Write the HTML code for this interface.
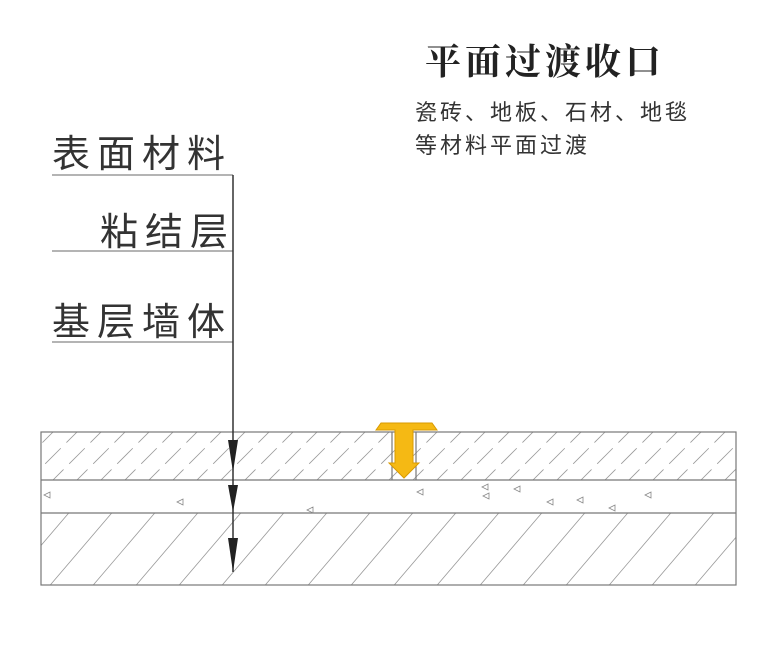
<!DOCTYPE html>
<html><head><meta charset="utf-8"><style>
body{margin:0;background:#fff;width:780px;height:646px;overflow:hidden}
svg{display:block}
.cj{font-family:"Liberation Sans","Noto Sans CJK SC",sans-serif;fill:#333}
</style></head><body>
<svg width="780" height="646" viewBox="0 0 780 646" xmlns="http://www.w3.org/2000/svg">
<defs>
<clipPath id="c1"><rect x="41" y="432" width="695" height="48"/></clipPath>
<clipPath id="c3"><rect x="41" y="513" width="695" height="72"/></clipPath>
</defs>
<text x="425" y="74" font-family="'Noto Serif CJK SC',serif" font-weight="bold" font-size="36" letter-spacing="4" fill="#222">平面过渡收口</text>
<text x="415" y="120" class="cj" font-size="22" letter-spacing="3">瓷砖、地板、石材、地毯</text>
<text x="415" y="153" class="cj" font-size="22" letter-spacing="3">等材料平面过渡</text>
<text x="52" y="167" class="cj" font-size="38" letter-spacing="7" fill="#444">表面材料</text>
<text x="100" y="245" class="cj" font-size="38" letter-spacing="7" fill="#444">粘结层</text>
<text x="52" y="335" class="cj" font-size="38" letter-spacing="7" fill="#444">基层墙体</text>
<g stroke="#888" stroke-width="1.2" fill="none">
<line x1="52" y1="175" x2="233" y2="175"/>
<line x1="52" y1="251" x2="233" y2="251"/>
<line x1="52" y1="342" x2="233" y2="342"/>
</g>
<g clip-path="url(#c1)" stroke="#999" stroke-width="0.8" stroke-dasharray="22 8" id="hh1"></g>
<g clip-path="url(#c3)" stroke="#999" stroke-width="0.8" id="hh3"></g>
<g stroke="#777" stroke-width="1.2" fill="none">
<rect x="41" y="432" width="695" height="153"/>
<line x1="41" y1="480" x2="736" y2="480"/>
<line x1="41" y1="513" x2="736" y2="513"/>
<line x1="392" y1="432" x2="392" y2="480"/>
<line x1="416" y1="432" x2="416" y2="480"/>
</g>
<g fill="none" stroke="#888" stroke-width="0.8" id="tri"></g>
<path d="M376,430 L381,423 L432,423 L437,430 L413,430 L413,463 L419,463 L404,478 L389,463 L395,463 L395,430 Z" fill="#f5b914" stroke="#d99a00" stroke-width="1"/>
<line x1="233" y1="175" x2="233" y2="572" stroke="#333" stroke-width="1.5"/>
<g fill="#222">
<polygon points="228,440 238,440 233,472"/>
<polygon points="228,485 238,485 233,512"/>
<polygon points="228,538 238,538 233,572"/>
</g>
<script>
var ns="http://www.w3.org/2000/svg";
var g1=document.getElementById("hh1"),g3=document.getElementById("hh3"),t=document.getElementById("tri");
for(var x=0;x<800;x+=24){var l=document.createElementNS(ns,"line");l.setAttribute("x1",x);l.setAttribute("y1",485);l.setAttribute("x2",x+58);l.setAttribute("y2",427);g1.appendChild(l);}
for(var x=-40;x<800;x+=43){var l=document.createElementNS(ns,"line");l.setAttribute("x1",x);l.setAttribute("y1",590);l.setAttribute("x2",x+70);l.setAttribute("y2",508);g3.appendChild(l);}
var pts=[[47,495],[180,502],[310,510],[420,492],[485,487],[486,496],[517,489],[550,502],[580,500],[612,508],[648,495]];
pts.forEach(function(p){var q=document.createElementNS(ns,"polygon");q.setAttribute("points",(p[0]-3)+","+p[1]+" "+(p[0]+3)+","+(p[1]-3)+" "+(p[0]+3)+","+(p[1]+3));t.appendChild(q);});
</script>
</svg>
</body></html>
